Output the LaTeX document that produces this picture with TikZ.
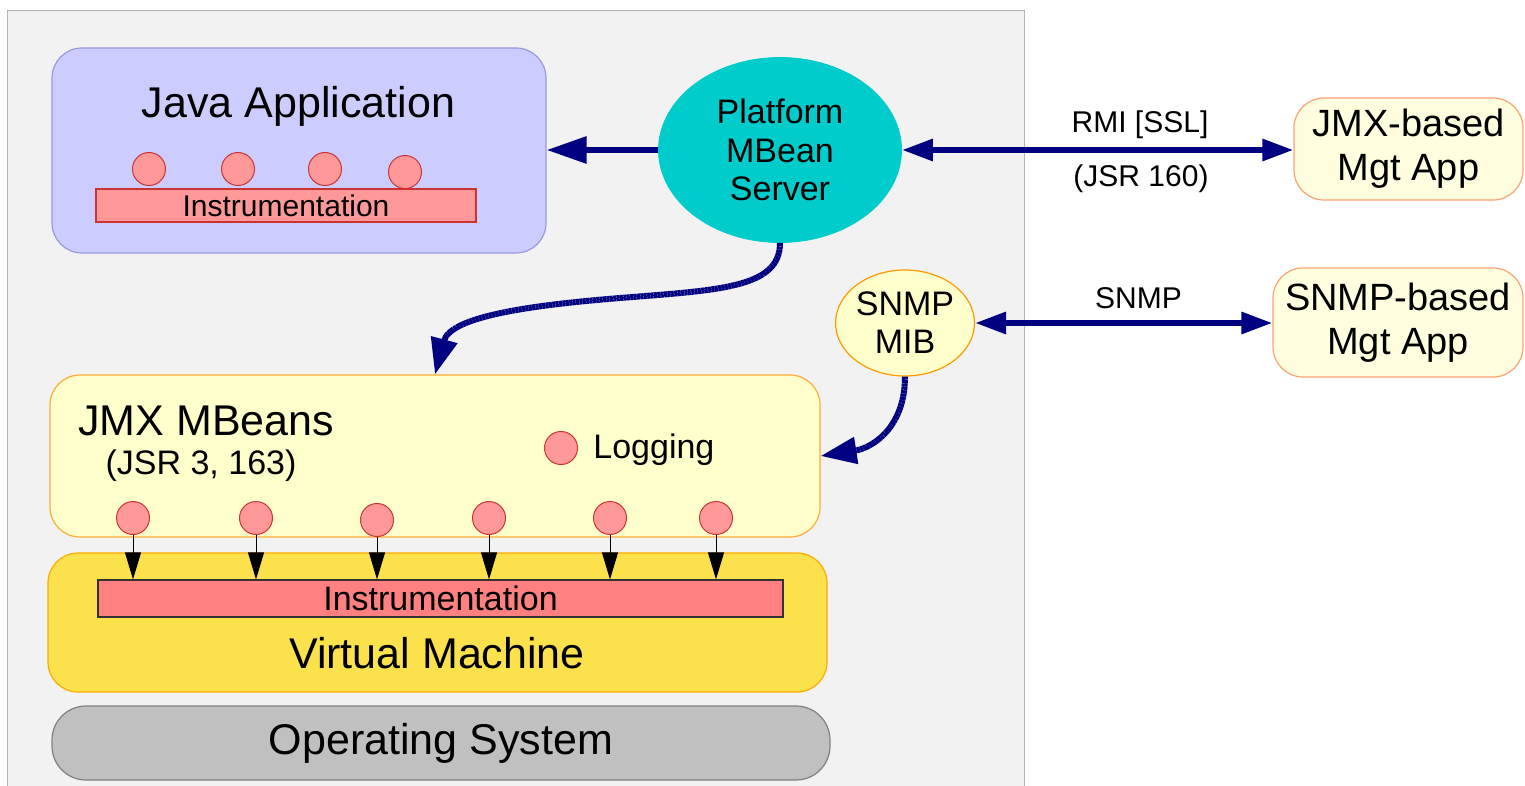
\documentclass[tikz,border=0pt]{standalone}
\usepackage{fontspec}
\setmainfont{Liberation Sans}
\usetikzlibrary{shapes.geometric,arrows.meta}

\definecolor{panelfill}{HTML}{F2F2F2}
\definecolor{panelline}{HTML}{B3B3B3}
\definecolor{javafill}{HTML}{CCCCFF}
\definecolor{javaedge}{HTML}{9999DD}
\definecolor{beanfill}{HTML}{FF9999}
\definecolor{beanedge}{HTML}{CC3333}
\definecolor{serverfill}{HTML}{00CCCC}
\definecolor{mibfill}{HTML}{FFFFCC}
\definecolor{mibedge}{HTML}{FF9900}
\definecolor{appfill}{HTML}{FFFFE0}
\definecolor{appedge}{HTML}{FFA070}
\definecolor{jmxfill}{HTML}{FFFFCC}
\definecolor{jmxedge}{HTML}{FFAA33}
\definecolor{vmfill}{HTML}{FBE14B}
\definecolor{vmedge}{HTML}{FFAA00}
\definecolor{instrfill}{HTML}{FF8080}
\definecolor{instredge}{HTML}{333333}
\definecolor{osfill}{HTML}{C0C0C0}
\definecolor{osedge}{HTML}{808080}
\definecolor{navy}{HTML}{000080}

\tikzset{
    layer/.style={draw, rounded corners=15pt, line width=0.6pt, inner sep=0pt},
    bean/.style={circle, draw=beanedge, fill=beanfill, line width=0.5pt, minimum size=16.5pt, inner sep=0pt},
    bar/.style={draw, line width=0.6pt, inner sep=0pt},
    title/.style={font=\fontsize{21.5}{26}\selectfont, inner sep=0pt},
    sub/.style={font=\fontsize{17}{20}\selectfont, inner sep=0pt},
    linktext/.style={font=\fontsize{15}{18}\selectfont, inner sep=0pt},
    mgt/.style={draw=appedge, fill=appfill, rounded corners=15pt, line width=0.6pt, inner sep=0pt, align=center, font=\fontsize{19}{22}\selectfont},
    link/.style={draw=navy, line width=3pt},
    bigtip/.style={-{Triangle[length=20pt,width=13pt]}},
    bothtips/.style={{Triangle[length=15.5pt,width=10.5pt]}-{Triangle[length=15.5pt,width=10.5pt]}},
    curvetip/.style={dash pattern=on 1.5pt off 0.2pt, -{Triangle[length=18pt,width=13pt]}},
    feed/.style={line width=0.5pt, -{Triangle[length=13.5pt,width=8pt]}}
}

\begin{document}
\begin{tikzpicture}[x=0.5pt, y=-0.5pt]
    \useasboundingbox (0,0) rectangle (1525,786);
    \fill[white] (0,0) rectangle (1525,786);
    \draw[draw=panelline, fill=panelfill] (7,10) rectangle (1024,800);

    \node [layer, draw=javaedge, fill=javafill, minimum width=247pt, minimum height=102.5pt] (java) at (299,150.5) {};
    \node [title, anchor=base] (javatext) at (298.5,118) {Java Application};
    \node [bar, draw=beanedge, fill=beanfill, minimum width=190pt, minimum height=16.5pt, font=\fontsize{15}{18}\selectfont] (instrapp) at (286,205.5) {Instrumentation};
    \node [bean] (a1) at (149,169) {};
    \node [bean] (a2) at (238,169) {};
    \node [bean] (a3) at (325,169) {};
    \node [bean] (a4) at (405,172) {};

    \node [ellipse, draw=serverfill, fill=serverfill, minimum width=121.5pt, minimum height=92.5pt, inner sep=0pt, align=center, font=\fontsize{17}{19.25}\selectfont] (pms) at (780,150) {Platform\\MBean\\Server};
    \node [ellipse, draw=mibedge, fill=mibfill, line width=0.6pt, minimum width=67pt, minimum height=53pt, inner sep=0pt, align=center, font=\fontsize{17}{19}\selectfont] (mib) at (905,323) {SNMP\\MIB};

    \node [mgt, minimum width=114.5pt, minimum height=51pt] (jmxapp) at (1408.5,149) {JMX-based\\Mgt App};
    \node [mgt, minimum width=125pt, minimum height=54.5pt] (snmpapp) at (1398,322.5) {SNMP-based\\Mgt App};

    \node [layer, draw=jmxedge, fill=jmxfill, minimum width=385pt, minimum height=81pt] (jmx) at (435,456) {};
    \node [title, anchor=base west] (jmxtext) at (78,435) {JMX MBeans};
    \node [sub, anchor=base] (jsrtext) at (201,474) {(JSR 3, 163)};
    \node [bean] (log) at (561,448) {};
    \node [sub, anchor=base west] (logtext) at (593,458) {Logging};

    \node [layer, draw=vmedge, fill=vmfill, minimum width=389.5pt, minimum height=69.5pt] (vm) at (437.5,622.5) {};
    \node [bar, draw=instredge, fill=instrfill, minimum width=342.5pt, minimum height=18.5pt, font=\fontsize{17}{20}\selectfont] (instrvm) at (440.5,598.5) {Instrumentation};
    \node [title, anchor=base] (vmtext) at (437,668) {Virtual Machine};

    \node [layer, draw=osedge, fill=osfill, rounded corners=17pt, minimum width=389pt, minimum height=37pt, font=\fontsize{21.5}{26}\selectfont] (os) at (441,743) {Operating System};

    \node [bean] (b1) at (133,518) {};
    \node [bean] (b2) at (256,518) {};
    \node [bean] (b3) at (377,520) {};
    \node [bean] (b4) at (489,518) {};
    \node [bean] (b5) at (610,518) {};
    \node [bean] (b6) at (716,518) {};

    \draw [feed] (b1.south) -- (b1.south |- instrvm.north);
    \draw [feed] (b2.south) -- (b2.south |- instrvm.north);
    \draw [feed] (b3.south) -- (b3.south |- instrvm.north);
    \draw [feed] (b4.south) -- (b4.south |- instrvm.north);
    \draw [feed] (b5.south) -- (b5.south |- instrvm.north);
    \draw [feed] (b6.south) -- (b6.south |- instrvm.north);

    \draw [link, bigtip] (pms.west) -- (pms.west -| java.east);
    \draw [link, bothtips] (pms.east) -- (pms.east -| jmxapp.west);
    \node [linktext, anchor=base] (rmitext) at (1140,133) {RMI [SSL]};
    \node [linktext, anchor=base] (jsr160text) at (1141,187) {(JSR 160)};
    \draw [link, bothtips] (mib.east) -- (mib.east -| snmpapp.west);
    \node [linktext, anchor=base] (snmptext) at (1138.5,308) {SNMP};

    \draw [link, curvetip] (pms.south) .. controls (780,288) and (720,290) .. (620,298) .. controls (520,306) and (450,318) .. (jmx.north);
    \draw [link, curvetip] (mib.south) .. controls (905,428) and (872,448) .. (jmx.east);
\end{tikzpicture}
\end{document}
